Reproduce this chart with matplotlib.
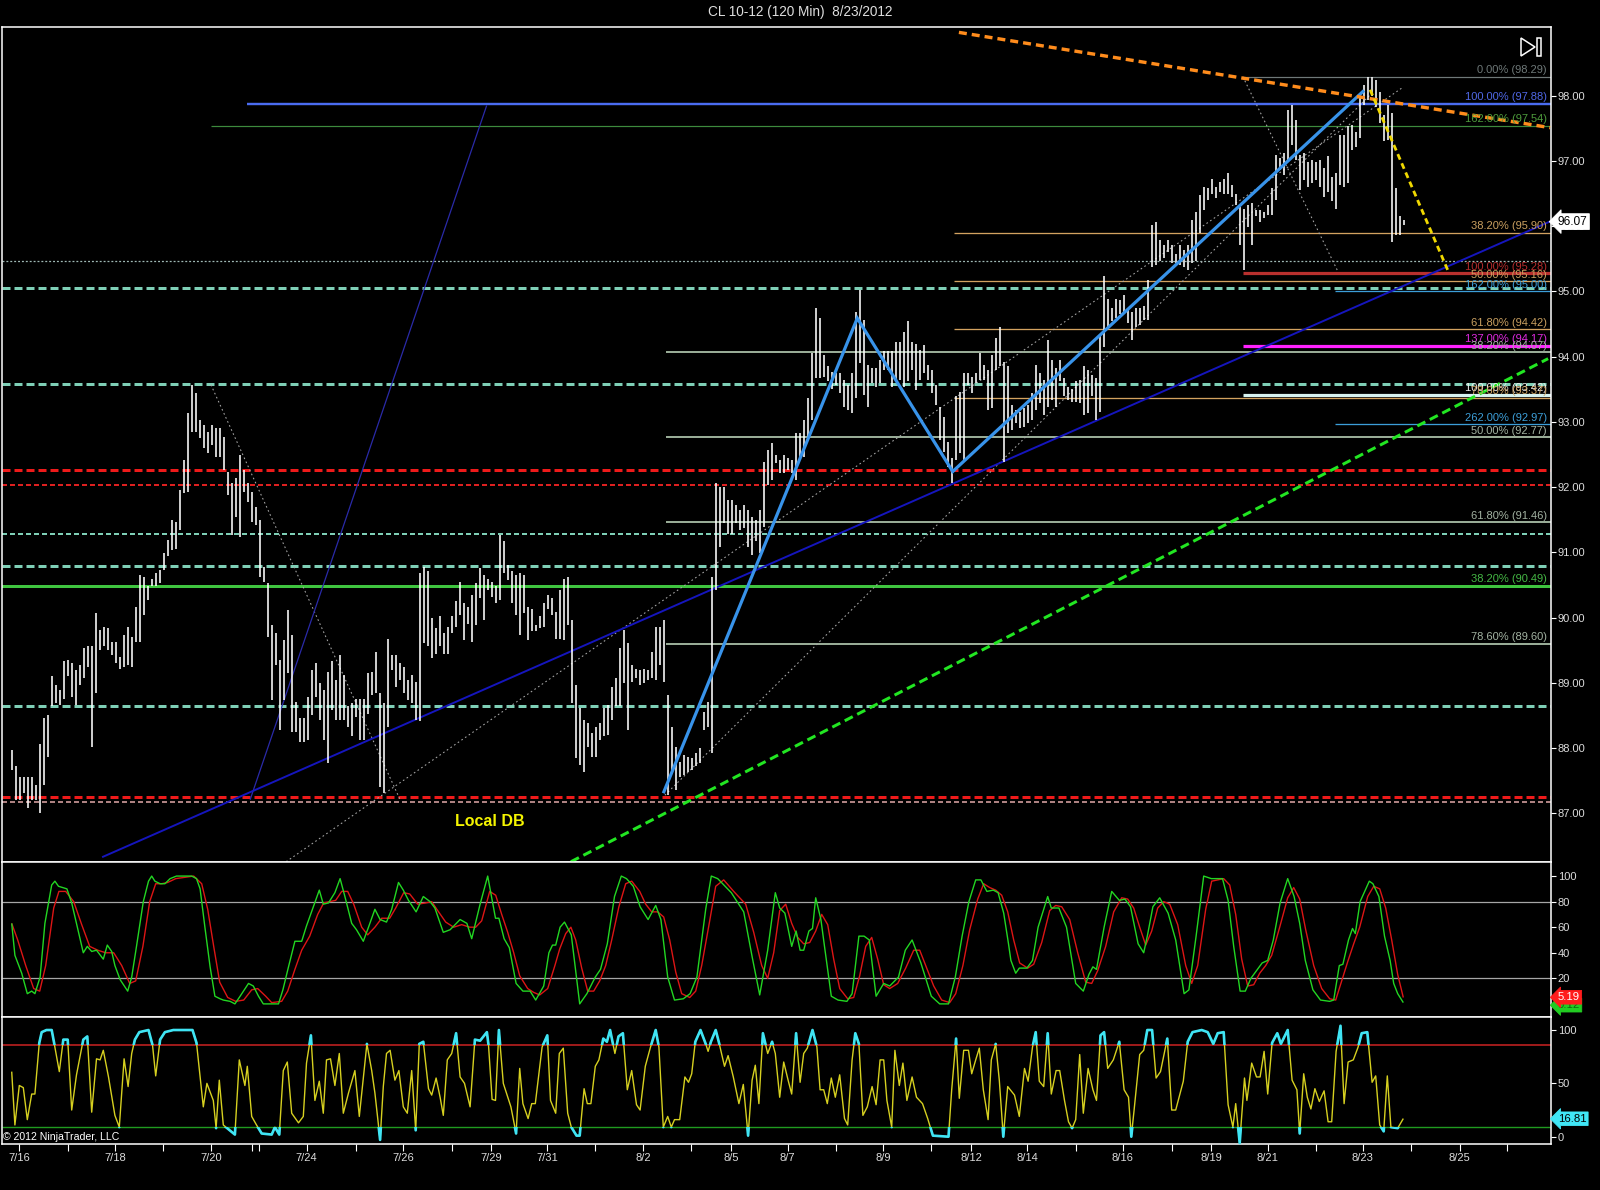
import matplotlib
matplotlib.use("Agg")
import matplotlib.pyplot as plt
import matplotlib.transforms as mtransforms
from matplotlib.patches import Rectangle, Polygon

plt.rcParams['font.family'] = ['Liberation Sans', 'DejaVu Sans']
plt.rcParams['lines.scale_dashes'] = False
plt.rcParams['lines.solid_capstyle'] = 'butt'

# ------------------------------------------------------------------ data
title = "CL 10-12 (120 Min)  8/23/2012"

bar_high = [
    87.97, 87.72, 87.56, 87.56, 87.56, 87.56, 87.44, 88.07, 88.46, 88.51,
    89.10, 88.97, 88.89, 89.33, 89.35, 89.30, 89.20, 89.27, 89.53, 89.56,
    89.56, 90.07, 89.81, 89.86, 89.84, 89.63, 89.63, 89.40, 89.73, 89.86,
    89.71, 90.17, 90.65, 90.63, 90.48, 90.60, 90.68, 90.73, 90.99, 91.19,
    91.50, 91.47, 91.96, 92.42, 93.13, 93.57, 93.44, 93.03, 92.95, 92.85,
    92.95, 92.90, 92.90, 92.77, 92.24, 92.06, 92.14, 92.49, 92.26, 92.06,
    91.93, 91.70, 91.50, 90.78, 90.53, 89.89, 89.76, 89.35, 89.66, 90.12,
    89.73, 88.71, 88.46, 88.46, 88.79, 89.20, 89.30, 89.00, 88.89, 89.17,
    89.33, 89.04, 89.43, 89.12, 88.64, 88.69, 88.76,
    88.76, 88.76, 89.15, 89.17, 89.48, 88.84, 88.69, 89.68, 89.43, 89.43,
    89.30, 89.25, 89.05, 89.12, 89.02, 90.68, 90.78, 90.71, 89.99, 89.84,
    90.02, 89.76, 89.86, 90.02, 90.25, 90.55, 90.22, 90.17, 90.35, 90.53,
    90.76, 90.65, 90.60, 90.55, 90.48, 91.27, 91.17, 90.81, 90.71, 90.65,
    90.68, 90.65, 90.17, 90.14, 89.89, 90.02, 90.22, 90.35, 90.30, 90.09,
    90.42, 90.60, 90.63, 89.96, 88.97, 88.61, 88.43, 88.38, 88.23, 88.33,
    88.38, 88.61, 88.66, 88.94, 89.07, 89.53, 89.81, 89.61, 89.28, 89.22,
    89.20, 89.22, 89.20, 89.48, 89.86, 89.86, 89.96, 88.82, 88.33, 88.02,
    87.79, 87.90, 87.87, 87.85, 87.92, 88.00, 88.56, 88.71,
    90.63, 92.06, 92.01, 92.01, 91.80, 91.80, 91.73, 91.65, 91.73, 91.65,
    91.55, 91.50, 91.65, 92.39, 92.57, 92.67, 92.49, 92.42, 92.49, 92.44,
    92.42, 92.83, 92.83, 93.03, 93.36, 94.05, 94.74, 94.59, 94.03, 93.85,
    93.77, 93.75, 93.75, 93.64, 93.57, 93.75, 94.69, 95.02, 94.56, 93.87,
    93.82, 93.82, 93.95, 94.08, 94.08, 94.08, 94.23, 94.23, 94.38, 94.54,
    94.23, 94.20, 94.10, 94.18, 93.87, 93.80, 93.57, 93.23, 93.08, 92.69,
    92.44, 93.39, 93.46, 93.75, 93.75, 93.69, 93.75, 94.05, 93.87, 93.80,
    94.03, 94.28, 94.46, 93.92, 93.85, 93.26, 93.18, 93.16, 93.21, 93.26,
    93.44, 93.87, 93.75, 93.64, 94.26, 93.95, 93.82,
    93.95, 93.67, 93.54, 93.51, 93.62, 93.64, 93.85, 93.80, 93.72, 93.67,
    94.31, 95.23, 94.89, 94.74, 94.89, 94.87, 94.95, 94.74, 94.69, 94.74,
    94.74, 94.77, 95.18, 96.02, 96.07, 95.79, 95.71, 95.79, 95.71, 95.58,
    95.71, 95.63, 95.71, 96.09, 96.22, 96.48, 96.60, 96.58, 96.73, 96.60,
    96.68, 96.73, 96.81, 96.63, 96.50, 96.30, 96.27, 96.32, 96.35, 96.25,
    96.25, 96.22, 96.32, 96.58, 97.09, 97.04, 97.12, 97.78, 97.86, 97.63,
    97.09, 97.12, 96.99, 97.01, 96.99, 97.01, 96.89, 97.07, 96.76, 96.81,
    97.40, 97.40, 97.53, 97.55, 97.45, 97.99, 98.16, 98.29, 98.29, 98.24,
    98.06, 97.70, 97.86, 97.73, 96.58, 96.15, 96.09,
]
bar_low = [
    87.67, 87.21, 87.21, 87.31, 87.08, 87.21, 87.21, 87.01, 87.44, 87.87,
    88.64, 88.69, 88.66, 88.76, 89.10, 88.79, 88.66, 88.97, 89.07, 89.25,
    88.02, 88.84, 89.50, 89.56, 89.50, 89.43, 89.30, 89.22, 89.25, 89.27,
    89.25, 89.63, 89.63, 90.04, 90.27, 90.48, 90.48, 90.53, 90.73, 90.94,
    91.04, 91.06, 91.34, 91.91, 91.93, 92.85, 92.85, 92.75, 92.60, 92.52,
    92.65, 92.47, 92.47, 92.26, 91.88, 91.27, 91.55, 91.24, 91.93, 91.78,
    91.47, 91.42, 90.63, 90.55, 89.71, 88.74, 89.27, 88.28, 88.74, 89.15,
    88.25, 88.25, 88.10, 88.10, 88.13, 88.51, 88.79, 88.43, 88.13, 87.77,
    88.59, 88.43, 88.43, 88.43, 88.33, 88.18, 88.48,
    88.13, 88.13, 88.53, 88.82, 88.84, 87.41, 87.31, 88.33, 89.20, 88.94,
    89.05, 88.84, 88.74, 88.69, 88.43, 88.41, 89.61, 89.56, 89.38, 89.45,
    89.56, 89.45, 89.45, 89.76, 89.86, 90.04, 89.66, 89.91, 89.63, 89.89,
    90.30, 89.96, 90.42, 90.32, 90.22, 90.27, 90.68, 90.58, 90.22, 90.04,
    89.73, 90.07, 89.66, 89.79, 89.79, 89.84, 89.86, 90.14, 90.04, 89.68,
    89.68, 89.66, 89.89, 88.69, 87.85, 87.74, 87.64, 88.02, 87.87, 87.87,
    88.13, 88.18, 88.20, 88.43, 88.64, 88.64, 89.00, 88.28, 89.02, 89.07,
    88.97, 89.00, 89.05, 89.07, 89.05, 89.28, 89.02, 87.28, 87.61, 87.36,
    87.56, 87.59, 87.64, 87.67, 87.72, 87.77, 88.28, 88.33,
    87.92, 90.42, 91.09, 91.45, 91.29, 91.29, 91.45, 91.34, 91.37, 91.09,
    90.96, 91.17, 90.99, 91.39, 92.03, 92.11, 92.37, 92.21, 92.21, 92.26,
    92.21, 92.11, 92.47, 92.47, 92.77, 93.03, 93.67, 93.67, 93.69, 93.62,
    93.51, 93.57, 93.44, 93.23, 93.18, 93.13, 93.36, 93.90, 93.41, 93.23,
    93.59, 93.54, 93.59, 93.80, 93.80, 93.54, 93.62, 93.64, 93.54, 93.62,
    93.80, 93.49, 93.64, 93.75, 93.64, 93.44, 93.26, 92.72, 92.54, 92.31,
    92.06, 92.42, 92.52, 92.42, 93.57, 93.44, 93.59, 93.64, 93.64, 93.18,
    93.21, 93.80, 93.85, 92.39, 92.83, 92.88, 92.98, 92.90, 92.93, 92.98,
    93.03, 93.18, 93.29, 93.11, 93.23, 93.34, 93.23,
    93.62, 93.39, 93.34, 93.31, 93.31, 93.29, 93.11, 93.13, 93.39, 93.03,
    93.16, 94.15, 94.46, 94.54, 94.59, 94.66, 94.66, 94.51, 94.26, 94.46,
    94.49, 94.56, 94.56, 95.38, 95.40, 95.46, 95.51, 95.61, 95.43, 95.43,
    95.40, 95.38, 95.33, 95.43, 95.46, 95.89, 96.25, 96.40, 96.50, 96.43,
    96.53, 96.50, 96.50, 96.45, 96.32, 95.71, 95.33, 95.99, 95.71, 96.15,
    96.07, 96.12, 96.17, 96.17, 96.40, 96.86, 96.78, 97.01, 97.24, 97.01,
    96.55, 96.71, 96.60, 96.66, 96.71, 96.60, 96.45, 96.53, 96.38, 96.27,
    96.63, 96.60, 96.66, 97.17, 97.22, 97.35, 97.86, 97.93, 97.99, 97.83,
    97.58, 97.30, 97.32, 95.76, 95.87, 95.87, 96.02,
]
last_price = 96.07

price_ticks = [87, 88, 89, 90, 91, 92, 93, 94, 95, 96, 97, 98]

date_major_pos = [2.9, 26.8, 50.8, 74.75, 98.9, 120.8, 134.85, 158.8, 180.9, 194.95,
                  218.8, 240.9, 254.8, 278.8, 300.9, 315.0, 338.7, 363.0]
date_major_lab = ["7/16", "7/18", "7/20", "7/24", "7/26", "7/29", "7/31", "8/2", "8/5", "8/7",
                  "8/9", "8/12", "8/14", "8/16", "8/19", "8/21", "8/23", "8/25"]
date_minor_pos = [15.0, 38.8, 61.0, 62.9, 87.0, 111.0, 146.9, 170.9, 207.0, 230.85,
                  267.0, 291.0, 327.0, 350.9, 374.9]

# Fibonacci levels: price, anchor bar, label, style
fib_price = [98.29, 97.88, 97.54, 95.90, 95.28, 95.16, 95.00, 94.42, 94.17, 94.07,
             93.42, 93.37, 92.97, 92.77, 91.46, 90.49, 89.60]
fib_start = [308.8, 59.75, 50.75, 236.6, 308.8, 236.6, 331.8, 236.6, 308.8, 164.6,
             308.8, 236.6, 331.8, 164.6, 164.6, -2.0, 164.6]
fib_label = ["0.00% (98.29)", "100.00% (97.88)", "162.00% (97.54)", "38.20% (95.90)",
             "100.00% (95.28)", "50.00% (95.16)", "162.00% (95.00)", "61.80% (94.42)",
             "137.00% (94.17)", "38.20% (94.07)", "100.00% (93.42)", "78.60% (93.37)",
             "262.00% (92.97)", "50.00% (92.77)", "61.80% (91.46)", "38.20% (90.49)",
             "78.60% (89.60)"]
fib_kind = ["grey", "blue", "green", "tan", "red", "tan", "lblue", "tan", "magenta", "sage",
            "white", "tan", "lblue", "sage", "sage", "lgreen", "sage"]

# full-width support / resistance lines
support_price = [95.47, 95.05, 93.58, 92.27, 92.04, 91.28, 90.79, 88.64, 87.25, 87.17]
support_kind = ["dot", "teal", "teal", "red", "redthin", "tealthin", "teal", "teal", "red", "pink"]

# drawn trend lines (bar, price) end points
zigzag_bar = [163.9, 212.4, 236.25, 339.1]
zigzag_price = [87.31, 94.59, 92.24, 98.08]
navy_bar, navy_price = [23.6, 385.5], [86.33, 96.07]
steep_bar, steep_price = [60.6, 119.75], [87.21, 97.85]
green_bar, green_price = [140.8, 385.1], [86.26, 93.97]
orange_bar, orange_price = [237.8, 385.6], [98.97, 97.51]
yellow_bar, yellow_price = [340.6, 360.2], [98.09, 95.30]
dotted_lines = [([50.8, 98.1], [93.57, 87.21]),
                ([69.6, 348.6], [86.26, 98.12]),
                ([164.3, 340.6], [87.28, 98.01]),
                ([308.8, 332.6], [98.29, 95.30])]
local_db_bar, local_db_price = 120.6, 86.87

# stochastics (bar, value)
stoch_k = [(1.0, 63), (1.8, 38), (3.5, 24), (4.9, 8), (6.0, 10), (6.8, 8), (8.1, 21), (9.3, 63),
           (11.0, 93), (11.8, 96), (12.7, 92), (14.8, 90), (16.0, 79), (17.2, 63), (18.9, 40),
           (19.9, 45), (21.0, 41), (22.2, 42), (23.9, 35), (24.9, 46), (26.0, 41), (26.8, 30),
           (28.1, 19), (30.0, 10), (31.0, 21), (32.2, 45), (33.9, 80), (35.2, 96), (36.0, 100),
           (36.8, 96), (38.1, 94), (39.3, 94), (40.6, 98), (42.2, 100), (46.0, 100), (47.2, 98),
           (48.1, 90), (49.3, 60), (50.6, 29), (51.8, 6), (53.1, 4), (53.9, 3), (55.6, 2),
           (56.8, 0), (58.1, 6), (60.2, 16), (61.4, 14), (62.7, 6), (63.9, 0), (67.7, 0),
           (68.8, 11), (70.2, 29), (71.8, 49), (73.5, 49), (74.7, 61), (76.4, 76), (77.9, 89),
           (78.9, 78), (80.2, 79), (81.8, 87), (83.1, 98), (84.3, 84), (86.0, 63), (87.2, 58),
           (88.9, 49), (90.2, 60), (91.8, 74), (93.1, 66), (94.7, 64), (96.0, 74), (97.7, 95),
           (98.9, 89), (100.2, 81), (102.1, 72), (103.9, 84), (105.6, 80), (106.8, 75),
           (108.9, 56), (110.6, 58), (113.1, 66), (114.8, 63), (116.0, 51), (118.1, 78),
           (120.0, 100), (121.95, 67), (122.8, 67), (124.1, 51), (125.4, 44), (127.1, 16),
           (128.8, 10), (130.6, 10), (132.0, 3), (134.0, 14), (135.3, 40), (136.2, 46),
           (137.0, 46), (138.1, 60), (139.2, 64), (140.9, 54), (143.0, 0), (144.8, 8),
           (146.9, 21), (148.2, 27), (149.9, 47), (151.7, 84), (153.4, 100), (154.7, 98),
           (156.4, 92), (158.1, 76), (160.1, 66), (162.0, 77), (163.3, 66), (165.0, 21),
           (166.7, 3), (168.9, 4), (170.6, 8), (172.3, 21), (174.5, 74), (175.9, 100),
           (177.5, 98), (180.9, 87), (184.0, 72), (186.1, 37), (188.0, 7), (190.0, 42),
           (191.9, 87), (193.0, 75), (194.3, 71), (196.0, 45), (197.1, 57), (198.1, 42),
           (199.0, 42), (200.3, 57), (201.2, 59), (202.0, 83), (203.3, 66), (204.2, 45),
           (205.9, 6), (207.6, 3), (209.8, 2), (211.1, 8), (212.8, 53), (214.1, 53),
           (215.4, 50), (217.1, 6), (219.0, 16), (220.5, 14), (222.7, 21), (224.4, 42),
           (226.1, 50), (228.3, 32), (230.9, 6), (233.0, 0), (235.2, 0), (236.9, 21),
           (238.6, 53), (240.3, 80), (242.0, 97), (243.3, 97), (244.8, 88), (246.4, 89),
           (247.6, 87), (249.0, 71), (250.2, 47), (250.8, 34), (252.0, 24), (252.9, 28),
           (254.8, 28), (256.2, 34), (257.6, 60), (260.0, 84), (260.9, 75), (262.8, 75),
           (264.7, 60), (267.0, 16), (268.9, 10), (270.3, 23), (271.3, 29), (272.2, 27),
           (274.1, 60), (276.0, 88), (277.9, 81), (279.3, 82), (280.7, 76), (282.6, 47),
           (284.0, 40), (284.9, 53), (286.3, 76), (288.0, 83), (290.1, 71), (292.0, 50),
           (294.1, 8), (295.3, 11), (297.1, 53), (299.0, 100), (300.9, 98), (303.7, 98),
           (305.1, 81), (306.5, 45), (308.1, 10), (309.4, 10), (310.8, 20), (312.2, 26),
           (313.6, 32), (315.0, 34), (316.4, 50), (318.1, 79), (320.0, 98), (321.6, 84),
           (323.0, 63), (324.4, 34), (326.3, 11), (328.2, 3), (330.5, 2), (331.5, 3),
           (332.9, 30), (333.8, 31), (335.2, 50), (336.2, 59), (336.9, 55), (338.1, 80),
           (340.4, 96), (341.3, 94), (342.8, 84), (344.2, 53), (345.6, 34), (346.5, 16),
           (347.5, 8), (348.9, 1)]
stoch_d = [(1, 63), (2.5, 50), (4.5, 30), (6.5, 12), (8.0, 10), (9.5, 30), (11.5, 75), (12.8, 88),
           (14.5, 88), (16.5, 80), (18.5, 62), (20.5, 45), (22.5, 42), (24.5, 40), (26.5, 40),
           (28.5, 30), (30.5, 16), (32.0, 18), (33.8, 45), (35.5, 80), (37.0, 94), (38.5, 94),
           (40.0, 95), (42.0, 98), (46.5, 100), (48.5, 94), (50.0, 74), (51.5, 45), (53.0, 17),
           (55.0, 5), (57.0, 2), (59.0, 3), (61.0, 11), (62.5, 12), (64.5, 6), (66.0, 1),
           (68.5, 2), (70.0, 10), (71.8, 27), (73.5, 42), (75.5, 53), (77.5, 70), (79.0, 79),
           (80.5, 80), (82.0, 81), (83.5, 88), (85.0, 88), (86.5, 78), (88.5, 60), (90.0, 54),
           (91.8, 60), (93.5, 67), (95.5, 67), (97.0, 75), (99.0, 87), (100.5, 86), (102.5, 78),
           (104.5, 79), (106.0, 80), (107.5, 73), (109.5, 64), (111.5, 60), (113.5, 62),
           (115.5, 60), (117.0, 60), (118.5, 65), (120.5, 88), (122.0, 85), (123.5, 70),
           (125.0, 56), (126.5, 40), (128.0, 22), (130.0, 12), (131.5, 9), (133.0, 7),
           (135.0, 12), (136.8, 30), (138.0, 43), (139.5, 55), (140.8, 60), (142.0, 50),
           (143.5, 28), (145.0, 10), (146.5, 10), (148.0, 18), (149.5, 30), (151.0, 50),
           (152.8, 76), (154.5, 94), (156.0, 96), (158.0, 88), (159.5, 78), (161.0, 72),
           (162.5, 72), (164.0, 68), (165.5, 50), (167.0, 25), (168.5, 8), (170.5, 5),
           (172.0, 10), (173.5, 30), (175.5, 65), (177.0, 92), (179.0, 97), (181.5, 88),
           (184.5, 78), (186.5, 56), (188.5, 30), (190.0, 20), (191.5, 40), (193.0, 73),
           (194.5, 78), (196.0, 63), (197.5, 52), (199.0, 47), (200.5, 48), (202.0, 57),
           (203.5, 70), (205.0, 62), (206.5, 35), (208.0, 12), (210.0, 4), (211.5, 5),
           (213.0, 22), (214.5, 45), (216.0, 52), (217.5, 35), (219.0, 15), (220.5, 12),
           (222.5, 16), (224.5, 28), (226.5, 42), (228.0, 42), (229.5, 30), (231.5, 14),
           (233.5, 3), (235.5, 1), (237.0, 8), (238.8, 30), (240.5, 58), (242.5, 82),
           (244.0, 94), (245.5, 91), (247.0, 89), (248.5, 85), (250.0, 72), (251.5, 50),
           (253.0, 32), (255.0, 28), (256.5, 31), (258.5, 48), (260.5, 73), (262.0, 77),
           (263.5, 76), (265.5, 66), (267.5, 40), (269.5, 17), (271.0, 16), (272.5, 26),
           (274.5, 45), (276.5, 72), (278.5, 83), (280.0, 82), (281.5, 75), (283.0, 60),
           (284.5, 46), (286.0, 57), (287.5, 75), (289.0, 80), (290.5, 78), (292.5, 62),
           (294.5, 30), (296.0, 16), (297.5, 30), (299.5, 74), (301.0, 96), (304.0, 98),
           (305.5, 93), (307.0, 70), (308.5, 35), (310.0, 14), (311.5, 15), (313.0, 24),
           (314.5, 30), (316.0, 38), (318.0, 60), (320.0, 83), (321.5, 91), (323.0, 82),
           (324.5, 58), (326.5, 30), (328.5, 12), (330.5, 4), (332.0, 3), (333.5, 18),
           (335.0, 33), (336.5, 47), (338.0, 60), (340.0, 84), (341.5, 92), (343.0, 90),
           (344.5, 75), (346.0, 50), (347.5, 23), (348.9, 5)]
stoch_levels = [20, 80]
stoch_ticks = [20, 40, 60, 80, 100]

# lower oscillator (bar, value)
osc = [(1.0, 61), (1.8, 11), (2.9, 48), (3.9, 46), (4.9, 16), (6.0, 40), (6.8, 40), (7.9, 88),
       (8.5, 98), (9.7, 100), (11.0, 100), (11.6, 88), (12.9, 61), (13.9, 91), (15.0, 91),
       (16.0, 25), (17.2, 58), (18.9, 91), (19.9, 94), (21.0, 23), (22.2, 73), (23.1, 72),
       (23.9, 81), (25.2, 56), (26.8, 20), (27.9, 9), (29.1, 73), (30.1, 47), (31.0, 78),
       (31.8, 91), (32.9, 98), (35.2, 100), (36.2, 86), (37.0, 57), (38.1, 91), (39.3, 98),
       (41.4, 100), (46.2, 100), (47.2, 88), (48.9, 28), (49.8, 50), (51.4, 34), (52.1, 8),
       (52.9, 53), (53.9, 11), (56.8, 2), (57.9, 72), (59.3, 48), (59.9, 66), (61.0, 19),
       (62.2, 11), (63.5, 3), (66.0, 2), (66.8, 9), (67.9, 2), (68.9, 62), (69.9, 70),
       (71.0, 22), (72.7, 13), (73.9, 19), (74.7, 69), (75.8, 95), (76.8, 34), (77.9, 52),
       (78.9, 22), (79.7, 72), (80.7, 73), (81.8, 48), (82.9, 78), (83.9, 22), (85.2, 41),
       (86.8, 62), (87.9, 19), (89.8, 87), (91.0, 62), (91.8, 41), (93.1, -3), (93.9, 47),
       (94.7, 78), (95.6, 81), (96.8, 53), (97.8, 62), (98.9, 28), (99.9, 22), (101.0, 62),
       (102.0, 6), (102.9, 87), (103.9, 89), (105.2, 45), (106.0, 39), (107.1, 55),
       (108.1, 37), (108.9, 20), (109.9, 72), (111.0, 78), (112.1, 97), (113.1, 56),
       (114.2, 50), (115.6, 28), (116.8, 91),
       (118.1, 90), (119.8, 98), (120.2, 86), (121.1, 35), (121.95, 34), (122.8, 100),
       (123.9, 50), (125.8, 28), (127.1, 3), (128.0, 64), (128.8, 31), (130.1, 17),
       (131.0, 31), (131.9, 31), (133.6, 84), (134.9, 95), (135.7, 34), (137.0, 22),
       (137.9, 78), (138.9, 83), (140.0, 22), (140.9, 9), (142.2, 1), (143.0, 1), (144.1, 45),
       (144.9, 31), (145.8, 31), (146.9, 66), (147.8, 72), (148.9, 92), (149.8, 89),
       (150.6, 100), (151.8, 78), (152.7, 94), (153.8, 97), (154.9, 44), (156.0, 62),
       (157.2, 30), (158.1, 25), (159.4, 66), (160.7, 84), (162.0, 100), (162.8, 84),
       (163.9, 9), (165.0, 19), (165.9, 9), (166.7, 16), (168.0, 16), (169.3, 56),
       (170.2, 51), (171.0, 59), (171.9, 89), (173.2, 100), (174.5, 87), (175.1, 80),
       (175.8, 89), (177.0, 100), (177.9, 87), (179.2, 66), (180.1, 76), (181.4, 56),
       (182.8, 31), (183.9, 49), (185.1, 1), (186.1, 53), (186.9, 67), (187.8, 31),
       (188.8, 97), (190.0, 78), (191.1, 89), (191.9, 78), (193.0, 37), (194.0, 70),
       (195.1, 53), (196.0, 40), (197.1, 97), (198.1, 51), (199.0, 78), (199.9, 83),
       (201.2, 100), (202.3, 84), (203.1, 44), (204.0, 44), (204.9, 31), (205.9, 55),
       (206.9, 37), (208.0, 58), (209.2, 17), (210.0, 11), (211.1, 72), (211.9, 97),
       (212.8, 87), (213.8, 20), (214.9, 28), (216.1, 47), (217.1, 30), (218.1, 72),
       (219.0, 72), (219.8, 34), (221.0, 9), (221.8, 81), (222.9, 48), (223.8, 69),
       (224.8, 34), (226.1, 56), (227.2, 37), (228.7, 31), (230.0, 17), (231.3, 1),
       (235.2, 0), (236.0, 44), (237.1, 92), (237.9, 36), (239.0, 81), (240.2, 81),
       (241.0, 59), (242.0, 72), (242.9, 83), (243.9, 44), (245.1, 16), (245.9, 72),
       (247.0, 87), (247.9, 53), (248.9, 0), (250.0, 47),
       (251.7, 39), (252.9, 19), (254.2, 64), (255.1, 52), (256.2, 84), (257.0, 98),
       (257.9, 52), (259.0, 47), (260.0, 97), (260.9, 40), (262.1, 62), (263.0, 62),
       (264.2, 34), (265.2, 14), (266.1, 8), (267.0, 16), (268.0, 77), (268.9, 22),
       (270.1, 64), (271.3, 44), (272.2, 34), (273.2, 95), (274.1, 98), (275.0, 64),
       (276.4, 72), (277.9, 89), (279.1, 44), (280.2, 37), (280.9, 0), (281.6, 25),
       (283.0, 77), (284.0, 81), (284.9, 100), (286.1, 100), (287.1, 55), (288.2, 61),
       (289.9, 92), (291.0, 25), (292.0, 25), (293.9, 52), (295.0, 89), (296.2, 98),
       (298.5, 100), (300.0, 98), (301.4, 87), (302.5, 97), (304.0, 98), (305.1, 30),
       (306.3, 9), (307.0, 31), (308.0, -6), (309.2, 55), (309.8, 34), (311.0, 69),
       (312.2, 56), (313.1, 56), (314.1, 80), (315.0, 40), (316.1, 88), (317.4, 97),
       (318.3, 87), (320.0, 100), (321.1, 53), (322.3, 44), (323.0, 3), (324.0, 59),
       (324.9, 37), (325.8, 26), (326.8, 45), (327.9, 33), (329.1, 43), (330.1, 14),
       (331.0, 14), (332.1, 80), (333.2, 104), (334.1, 31), (335.1, 70), (336.4, 72),
       (337.6, 84), (338.5, 97), (339.9, 98), (341.1, 51), (342.0, 57), (343.0, 11),
       (344.0, 5), (344.9, 57), (345.8, 9), (347.5, 8), (348.9, 17)]
osc_upper, osc_lower = 86, 9.4
osc_ticks = [0, 50, 100]
stoch_k_last, stoch_d_last, osc_last = 0.12, 5.19, 16.81

# ------------------------------------------------------------------ layout
W, H = 1600, 1190
fig = plt.figure(figsize=(W / 100, H / 100), dpi=100, facecolor="black")


def fx(px):
    return px / W


def fy(py):
    return 1 - py / H


def px2bar(px):
    return 1 + (px - 11.7) / 4.0


L, R = 2.0, 1550.7
ax = fig.add_axes([fx(L), fy(862), (R - L) / W, (862 - 27.3) / H])
ax_st = fig.add_axes([fx(L), fy(1017), (R - L) / W, (1017 - 862) / H])
ax_os = fig.add_axes([fx(L), fy(1143.5), (R - L) / W, (1143.5 - 1017) / H])

XL = (px2bar(L), px2bar(R))
TXT = "#dcdcdc"
for a in (ax, ax_st, ax_os):
    a.set_facecolor("black")
    a.set_xlim(*XL)
    for s in a.spines.values():
        s.set_color("white")
        s.set_linewidth(1.1)
    a.yaxis.tick_right()
    a.tick_params(axis="y", colors="white", labelcolor=TXT, labelsize=8.0,
                  length=3.6, width=0.8, pad=1.5, direction="out")
    a.tick_params(axis="x", which="both", bottom=False, labelbottom=False)

ax.set_ylim(86.256, 99.048)
ax_st.set_ylim(-10.25, 111.0)
ax_os.set_ylim(-6.37, 112.2)

ax.set_yticks(price_ticks)
ax.set_yticklabels(["%.2f" % p for p in price_ticks])
ax_st.set_yticks(stoch_ticks)
ax_st.set_yticklabels([str(v) for v in stoch_ticks])
ax_os.set_yticks(osc_ticks)
ax_os.set_yticklabels([str(v) for v in osc_ticks])

ax_os.set_xticks(date_major_pos)
ax_os.set_xticklabels(date_major_lab)
ax_os.set_xticks(date_minor_pos, minor=True)
ax_os.tick_params(axis="x", which="both", bottom=True, labelbottom=True, direction="out",
                  length=5, width=0.8, colors="white", labelcolor=TXT, labelsize=8.0, pad=2)

# ------------------------------------------------------------------ price panel
PT = 0.72  # points per pixel
sup_style = {
    "dot": dict(color="#9fb8b4", lw=0.9, dashes=(1.4, 1.4)),
    "teal": dict(color="#7ecfb6", lw=3 * PT, dashes=(8 * PT, 4 * PT)),
    "tealthin": dict(color="#7ecfb6", lw=2 * PT, dashes=(5 * PT, 3 * PT)),
    "red": dict(color="#ee1a1a", lw=3 * PT, dashes=(8 * PT, 4 * PT)),
    "redthin": dict(color="#dd2020", lw=2 * PT, dashes=(5 * PT, 3 * PT)),
    "pink": dict(color="#d9a2a2", lw=1.6 * PT, dashes=(5 * PT, 3 * PT)),
}
for p, k in zip(support_price, support_kind):
    st = sup_style[k]
    ax.axhline(p, color=st["color"], lw=st["lw"], dashes=st["dashes"], zorder=2)

fib_line = {
    "grey": ("#6f7878", 1.2 * PT), "blue": ("#4a6cf0", 2.4 * PT), "green": ("#3d8a3d", 1.2 * PT),
    "tan": ("#d3a260", 1.3 * PT), "red": ("#b8302e", 3.2 * PT), "lblue": ("#3c9ed8", 1.3 * PT),
    "magenta": ("#ff22ff", 3.2 * PT), "sage": ("#aabfa8", 1.8 * PT), "white": ("#d6f2f0", 3.2 * PT),
    "lgreen": ("#3fc43f", 3.0 * PT),
}
fib_text = {
    "grey": "#6e7878", "blue": "#5068e6", "green": "#4e9c3c", "tan": "#caa060", "red": "#b42c2c",
    "lblue": "#3d9fd9", "magenta": "#e02ae0", "sage": "#a3b3a2", "white": "#eeeeee",
    "lgreen": "#45b845",
}
x_label = px2bar(1547)
for p, s0, lab, k in zip(fib_price, fib_start, fib_label, fib_kind):
    c, lw = fib_line[k]
    ax.hlines(p, s0, XL[1], colors=c, lw=lw, zorder=2)
    ax.annotate(lab, (x_label, p), xytext=(0, 1.0), textcoords="offset points",
                ha="right", va="bottom", fontsize=8.0, color=fib_text[k], zorder=6)

# dotted grey helper lines
for xs, ys in dotted_lines:
    ax.plot(xs, ys, color="#a8a8a8", lw=0.75, dashes=(1.2, 2.0), zorder=2)

ax.plot(steep_bar, steep_price, color="#2a2aa8", lw=0.9, zorder=2)
ax.plot(navy_bar, navy_price, color="#1515bd", lw=1.4, zorder=2)

# price bars
xb = list(range(1, len(bar_high) + 1))
ax.vlines(xb, bar_low, bar_high, colors="white", lw=1.15, zorder=3)

ax.plot(green_bar, green_price, color="#22e622", lw=3 * PT, dashes=(9 * PT, 5 * PT), zorder=4)
ax.plot(zigzag_bar, zigzag_price, color="#3893ea", lw=3.2 * PT, zorder=4,
        solid_joinstyle="miter")
ax.plot(orange_bar, orange_price, color="#ff8c1c", lw=3.4 * PT, dashes=(8 * PT, 5 * PT), zorder=4)
ax.plot(yellow_bar, yellow_price, color="#f0d800", lw=2.8 * PT, dashes=(6 * PT, 4 * PT), zorder=4)

ax.text(local_db_bar, local_db_price, "Local DB", color="#f4f400", fontsize=11.5,
        fontweight="bold", ha="center", va="center", zorder=6)


def tag(axis, y, text, fc, tc, fs=8.6):
    tr = mtransforms.blended_transform_factory(axis.transAxes, axis.transData)
    axis.text(1.0045, y, text, transform=tr, ha="left", va="center", fontsize=fs, color=tc,
              bbox=dict(boxstyle="larrow,pad=0.16", fc=fc, ec=fc, lw=0.6),
              clip_on=False, zorder=20)


tag(ax, last_price, "%.2f" % last_price, "white", "black")

# ------------------------------------------------------------------ stochastics
for lv in stoch_levels:
    ax_st.axhline(lv, color="#a6a6a6", lw=0.9)
ax_st.plot([p[0] for p in stoch_d], [p[1] for p in stoch_d], color="#dd1515", lw=1.0)
ax_st.plot([p[0] for p in stoch_k], [p[1] for p in stoch_k], color="#22d622", lw=1.0)
tag(ax_st, -1.0, "%.2f" % stoch_k_last, "#22cc22", "#116611", fs=8.2)
tag(ax_st, stoch_d_last, "%.2f" % stoch_d_last, "#ff1c1c", "white", fs=8.2)

# ------------------------------------------------------------------ oscillator
ax_os.axhline(osc_upper, color="#cc2222", lw=1.1)
ax_os.axhline(osc_lower, color="#1f9a1f", lw=1.0)
ob = [p[0] for p in osc]
ov = [p[1] for p in osc]
ax_os.plot(ob, ov, color="#d6d020", lw=1.0, zorder=3)
for y0, hgt in ((osc_upper, 60), (osc_lower - 60, 60)):
    ln, = ax_os.plot(ob, ov, color="#3fe4f4", lw=1.9, zorder=4)
    clip = Rectangle((XL[0], y0), XL[1] - XL[0], hgt, transform=ax_os.transData)
    ln.set_clip_path(clip)
tag(ax_os, osc_last, "%.2f" % osc_last, "#40e6f6", "black", fs=8.2)

# ------------------------------------------------------------------ texts / icons
fig.text(0.5, fy(12), title, ha="center", va="center", color="#dedede", fontsize=9.8)
fig.text(fx(3), fy(1137.5), "\u00a9 2012 NinjaTrader, LLC", ha="left", va="center",
         color="white", fontsize=7.6)

tri = Polygon([[fx(1521), fy(38)], [fx(1521), fy(56)], [fx(1535), fy(47)]], closed=True,
              fill=False, ec="white", lw=1.1, transform=fig.transFigure)
bar_icon = Rectangle((fx(1537), fy(56)), 4 / W, 18 / H, fill=False, ec="white", lw=1.1,
                     transform=fig.transFigure)
fig.add_artist(tri)
fig.add_artist(bar_icon)

fig.savefig("out.png", dpi=100, facecolor="black")
